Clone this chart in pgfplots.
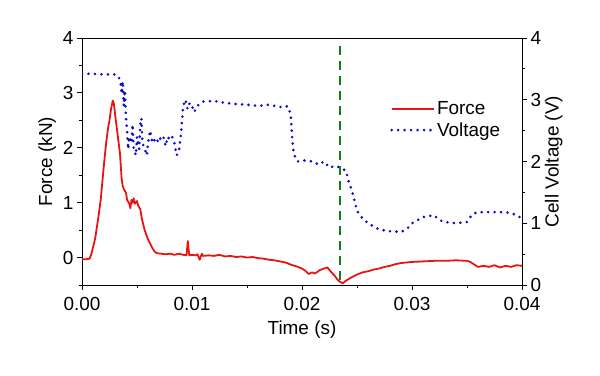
\documentclass[border=0pt]{standalone}
\usepackage{pgfplots}
\pgfplotsset{compat=1.18}
\usepackage{fontspec}
\setmainfont{Liberation Sans}
\definecolor{fred}{RGB}{232,20,20}
\definecolor{vblue}{RGB}{10,10,205}
\definecolor{dgreen}{RGB}{20,125,20}
\begin{document}
\begin{tikzpicture}
\useasboundingbox (-82bp,-91bp) rectangle (518bp,285bp);
\pgfplotsset{
  every axis/.append style={
    at={(0,0)}, anchor=south west, scale only axis,
    width=440bp, height=247bp,
    xmin=0, xmax=0.04,
    tick align=outside,
    major tick length=5bp, minor tick length=3bp,
    every tick/.style={black, line width=0.8pt},
    axis line style={black, line width=0.8pt},
    tick label style={font=\fontsize{19}{22}\selectfont},
    label style={font=\fontsize{19}{22}\selectfont},
    /pgf/number format/assume math mode=true,
  }
}
\begin{axis}[
  ymin=-0.5, ymax=4,
  xtick={0,0.01,0.02,0.03,0.04},
  minor xtick={0.005,0.015,0.025,0.035},
  ytick={0,1,2,3,4},
  minor ytick={-0.5,0.5,1.5,2.5,3.5},
  xtick pos=bottom, ytick pos=left,
  scaled x ticks=false,
  xticklabel style={yshift=-4bp, /pgf/number format/.cd, fixed, fixed zerofill, precision=2},
  xlabel={Time (s)}, ylabel={Force (kN)},
  xlabel style={yshift=-3bp},
]
\addplot[fred, line width=1.8pt, line join=round] coordinates {
(0,-0.03)(0.0004,-0.03)(0.0007,-0.02)(0.0009,0.1)(0.0012,0.35)(0.0015,0.75)(0.0017,1.05)
(0.002,1.7)(0.0022,2.1)(0.0024,2.4)(0.0025,2.5)(0.00265,2.72)(0.0028,2.86)(0.0029,2.8)
(0.003,2.62)(0.0032,2.3)(0.00345,1.9)(0.0036,1.45)(0.0037,1.3)(0.0038,1.25)(0.004,1.18)
(0.0041,1.05)(0.0043,0.98)(0.0044,0.9)(0.0045,1.05)(0.0046,1.0)(0.0047,1.08)(0.0048,0.98)
(0.005,1.03)(0.0051,0.95)(0.0053,0.88)(0.00545,0.7)(0.0057,0.5)(0.006,0.33)(0.0062,0.25)
(0.0064,0.17)(0.0066,0.11)(0.0068,0.08)(0.0072,0.07)(0.0076,0.06)(0.008,0.07)(0.0084,0.05)
(0.0088,0.07)(0.0092,0.05)(0.0095,0.04)(0.00962,0.3)(0.00975,0.04)(0.01,0.05)(0.0103,0.04)
(0.0105,0.06)(0.0107,-0.04)(0.0108,0.02)(0.0109,0.07)(0.011,0.03)(0.0115,0.04)(0.012,0.03)
(0.0125,0.05)(0.013,0.02)(0.0135,0.03)(0.014,0.01)(0.0145,0.02)(0.015,0.0)(0.0155,0.01)
(0.016,-0.01)(0.0165,-0.02)(0.017,-0.04)(0.0175,-0.05)(0.018,-0.07)(0.0185,-0.09)(0.019,-0.13)
(0.0195,-0.16)(0.02,-0.2)(0.0203,-0.24)(0.0206,-0.3)(0.0209,-0.27)(0.0212,-0.29)(0.0216,-0.23)
(0.022,-0.2)(0.0223,-0.18)(0.0226,-0.25)(0.023,-0.34)(0.0233,-0.42)(0.0237,-0.47)(0.024,-0.42)
(0.0245,-0.36)(0.025,-0.31)(0.0255,-0.27)(0.026,-0.25)(0.0265,-0.22)(0.027,-0.2)(0.0275,-0.17)
(0.028,-0.15)(0.0285,-0.12)(0.029,-0.1)(0.0295,-0.09)(0.03,-0.08)(0.031,-0.07)(0.032,-0.06)
(0.033,-0.06)(0.034,-0.05)(0.035,-0.06)(0.0353,-0.08)(0.0356,-0.12)(0.036,-0.17)(0.0365,-0.15)
(0.037,-0.17)(0.0375,-0.14)(0.038,-0.18)(0.0385,-0.15)(0.039,-0.17)(0.0395,-0.14)(0.04,-0.15)
};
\end{axis}
\begin{axis}[
  ymin=0, ymax=4,
  axis x line=none,
  axis y line*=right,
  ytick={0,1,2,3,4},
  minor ytick={0.5,1.5,2.5,3.5},
  ytick pos=right,
  ylabel={Cell Voltage (V)},
  ylabel style={yshift=3bp},
  legend style={at={(0.70,0.75)}, anchor=north west, draw=none, fill=none,
    font=\fontsize{19}{22}\selectfont, row sep=2bp, inner sep=0pt,
    nodes={inner sep=2bp}},
  legend cell align=left,
  legend image code/.code={\draw[#1] (0bp,0bp) -- (42bp,0bp);},
]
\addlegendimage{fred, line width=1.8pt}
\addlegendentry{Force}
\addplot[vblue, line width=2.9pt, line cap=round, dash pattern=on 0pt off 6.5pt] coordinates {
(0,3.42)(0.001,3.42)(0.002,3.41)(0.003,3.41)(0.0033,3.38)(0.0035,3.3)(0.0036,3.1)(0.0037,3.3)
(0.0038,2.9)(0.0039,3.15)(0.004,2.7)(0.0041,2.5)(0.0042,2.2)(0.0043,2.4)(0.0045,2.3)(0.0046,2.6)
(0.0047,2.2)(0.0049,2.1)(0.005,2.4)(0.0052,2.2)(0.0053,2.6)(0.0054,2.7)(0.0055,2.3)(0.0057,2.2)
(0.0059,2.1)(0.006,2.3)(0.0062,2.5)(0.0064,2.3)(0.0066,2.35)(0.0068,2.3)(0.007,2.4)(0.0072,2.35)
(0.0074,2.4)(0.0076,2.25)(0.0078,2.4)(0.008,2.35)(0.0082,2.4)(0.0084,2.3)(0.0086,2.1)(0.0088,2.15)
(0.009,2.45)(0.0092,2.9)(0.0094,3.0)(0.0096,2.85)(0.0098,2.95)(0.01,2.9)(0.0102,2.8)(0.0104,2.88)
(0.0106,2.92)(0.011,2.97)(0.012,2.98)(0.013,2.95)(0.014,2.93)(0.015,2.92)(0.016,2.9)(0.017,2.92)
(0.018,2.88)(0.0185,2.9)(0.0188,2.88)(0.019,2.7)(0.0191,2.4)(0.0192,2.2)(0.0194,2.05)(0.0196,2.0)
(0.02,2.02)(0.021,2.0)(0.0215,1.95)(0.022,2.0)(0.0225,1.9)(0.023,1.93)(0.0235,1.9)(0.024,1.85)
(0.0242,1.7)(0.0245,1.55)(0.0248,1.35)(0.025,1.2)(0.0255,1.08)(0.026,1.0)(0.027,0.9)(0.028,0.87)
(0.029,0.86)(0.0295,0.9)(0.03,1.0)(0.031,1.1)(0.032,1.13)(0.0325,1.05)(0.033,1.02)(0.034,1.0)
(0.035,1.02)(0.0355,1.15)(0.036,1.18)(0.037,1.18)(0.038,1.18)(0.039,1.17)(0.04,1.08)
};
\addlegendentry{Voltage}
\addplot[dgreen, line width=1.5pt, dash pattern=on 9bp off 6bp, forget plot] coordinates {(0.02345,0.08)(0.02345,3.92)};
\end{axis}
\end{tikzpicture}
\end{document}
